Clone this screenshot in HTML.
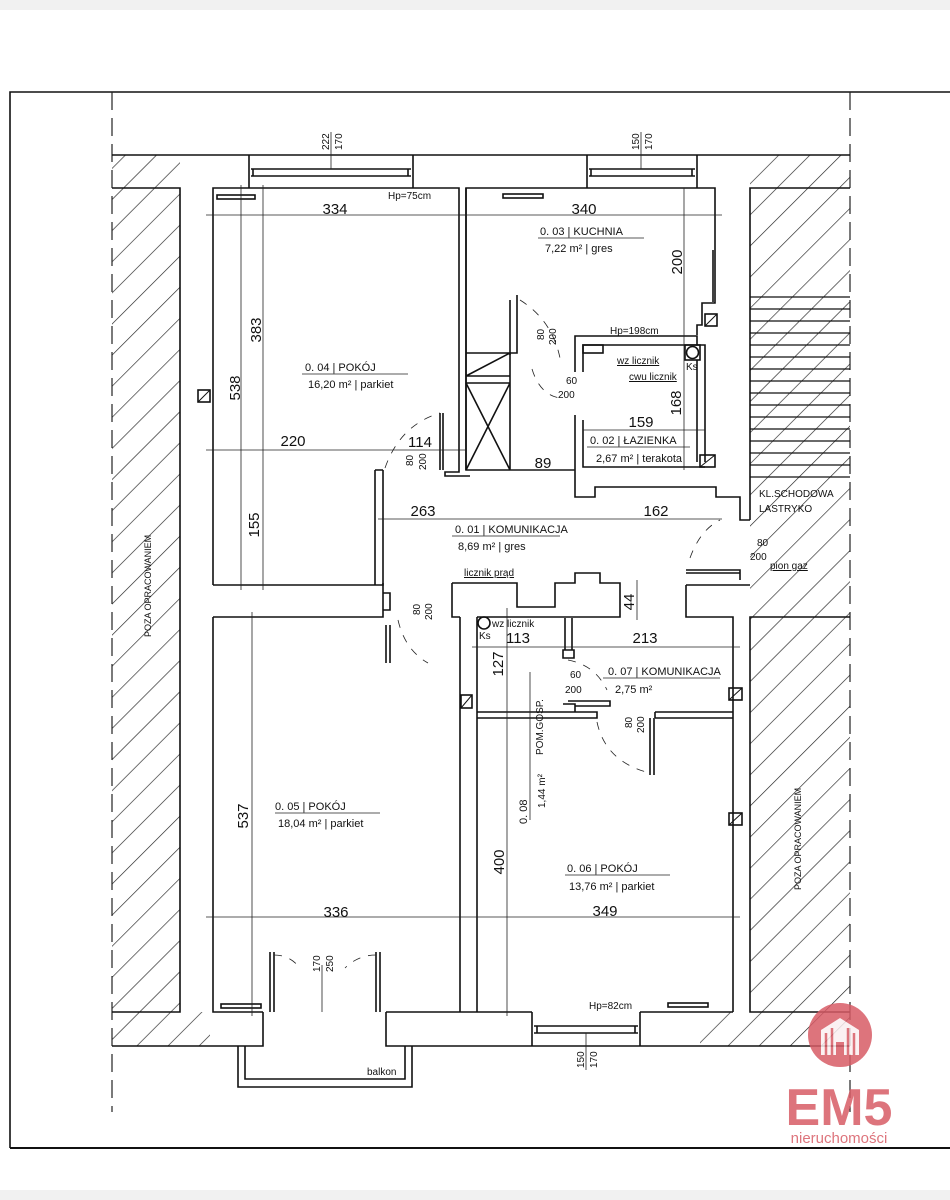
<!DOCTYPE html>
<html><head><meta charset="utf-8"><style>
html,body{margin:0;padding:0;background:#fff;}
svg{display:block;font-family:"Liberation Sans",sans-serif;}
.w{fill:none;stroke:#111;stroke-width:1.6}
.t{fill:none;stroke:#222;stroke-width:0.8}
.d{font-size:15px;fill:#111}
.s{font-size:10px;fill:#111}
.m{font-size:11px;fill:#111}
</style></head><body>
<svg width="950" height="1200" viewBox="0 0 950 1200" xmlns="http://www.w3.org/2000/svg">
<defs>
<pattern id="h" patternUnits="userSpaceOnUse" width="22" height="22" patternTransform="rotate(45)">
<line x1="0" y1="0" x2="0" y2="22" stroke="#222" stroke-width="1.3"/>
</pattern>
</defs>
<rect x="0" y="0" width="950" height="10" fill="#f1f1f1"/>
<rect x="0" y="1190" width="950" height="10" fill="#f1f1f1"/>
<!-- border -->
<path d="M10,1148 V92 H950" class="w" stroke-width="2"/>
<line x1="10" y1="1148" x2="950" y2="1148" stroke="#111" stroke-width="2"/>
<line x1="112" y1="92" x2="112" y2="1112" stroke="#222" stroke-width="1.2" stroke-dasharray="18,8"/>
<line x1="850" y1="92" x2="850" y2="1112" stroke="#222" stroke-width="1.2" stroke-dasharray="18,8"/>
<!-- hatches -->
<rect x="112" y="155" width="68" height="891" fill="url(#h)"/>
<rect x="180" y="1012" width="30" height="34" fill="url(#h)"/>
<rect x="750" y="155" width="100" height="891" fill="url(#h)"/>
<rect x="700" y="1012" width="50" height="34" fill="url(#h)"/>
<rect x="751" y="618" width="98" height="394" fill="#fff" opacity="0"/>
<!-- hatch outlines -->
<path d="M112,188 H180 V1012 H112" class="w"/>
<path d="M850,188 H750 V520" class="w"/>
<path d="M850,617 H750 V1012 H850" class="w"/>
<g stroke="#111" stroke-width="1.2">
<line x1="750" y1="297" x2="850" y2="297"/><line x1="750" y1="309" x2="850" y2="309"/><line x1="750" y1="321" x2="850" y2="321"/><line x1="750" y1="333" x2="850" y2="333"/><line x1="750" y1="345" x2="850" y2="345"/><line x1="750" y1="357" x2="850" y2="357"/><line x1="750" y1="369" x2="850" y2="369"/><line x1="750" y1="381" x2="850" y2="381"/><line x1="750" y1="393" x2="850" y2="393"/><line x1="750" y1="405" x2="850" y2="405"/><line x1="750" y1="417" x2="850" y2="417"/><line x1="750" y1="429" x2="850" y2="429"/><line x1="750" y1="441" x2="850" y2="441"/><line x1="750" y1="453" x2="850" y2="453"/><line x1="750" y1="465" x2="850" y2="465"/><line x1="750" y1="477" x2="850" y2="477"/>
</g>
<!-- exterior -->
<line x1="112" y1="155" x2="850" y2="155" class="w"/>
<path d="M112,1046 H263 V1012" class="w"/>
<path d="M386,1012 V1046 H850" class="w"/>
<!-- windows top -->
<path d="M249,155 V188 M413,155 V188 M251,169 H411 M251,176 H411 M253,169 V176 M408,169 V176" class="w" stroke-width="1.2"/>
<path d="M587,155 V188 M697,155 V188 M589,169 H695 M589,176 H695 M591,169 V176 M692,169 V176" class="w" stroke-width="1.2"/>
<!-- window bottom -->
<path d="M532,1012 V1046 M640,1012 V1046 M534,1026 H638 M534,1033 H638 M537,1026 V1033 M635,1026 V1033" class="w" stroke-width="1.2"/>
<!-- balcony -->
<path d="M238,1046 V1087 H412 V1046 M245,1046 V1079 H405 V1046" class="w" stroke-width="1.2"/>
<!-- room 0.04 -->
<path d="M213,585 V188 H459 V472 H445 V476 H470" class="w"/>
<path d="M383,470 V585 H213" class="w"/>
<path d="M375,470 H383 M375,470 V585" class="w"/>
<rect x="217" y="195" width="38" height="4" class="w" stroke-width="1"/>
<!-- kitchen -->
<path d="M466,470 V188 H715 V303 H702 V325 H697 V335" class="w"/>
<path d="M466,188 V470 H575" class="w"/>
<path d="M466,353 H510 V470 M466,376 H510 M466,376 L510,353 M466,383 H510 M466,383 L510,470 M510,383 L466,470" class="w" stroke-width="1.2"/>
<path d="M510,300 V355 M517,295 V353 H510" class="w"/>
<rect x="503" y="194" width="40" height="4" class="w" stroke-width="1"/>
<path d="M713,250 V302" class="w"/>
<!-- bath -->
<path d="M575,372 V336 H697 V345 H705 V462" class="w"/>
<path d="M583,372 V345 H697 M583,345 H595" class="w"/>
<rect x="583" y="345" width="20" height="8" class="w" stroke-width="1"/>
<path d="M575,415 V497 H595 V487 H716 V497 H740 V520 H750" class="w"/>
<path d="M583,420 V467 H705" class="w"/>
<rect x="685" y="345" width="15" height="15" class="w" stroke-width="1.2"/>
<circle cx="692.5" cy="352.5" r="6" class="w" stroke-width="1.2"/>
<rect x="700" y="455" width="15" height="12" class="w" stroke-width="1.2"/><line x1="700" y1="467" x2="715" y2="455" stroke="#111"/>
<rect x="705" y="314" width="12" height="12" class="w" stroke-width="1.2"/><line x1="705" y1="326" x2="717" y2="314" stroke="#111"/>
<line x1="697" y1="360" x2="697" y2="462" class="w"/>
<!-- left small vent -->
<rect x="198" y="390" width="12" height="12" class="w" stroke-width="1.2"/><line x1="198" y1="402" x2="210" y2="390" stroke="#111"/>
<!-- corridor door leaf -->
<path d="M440,413 V470 M443,413 V470" class="w" stroke-width="1.2"/>
<path d="M385,468 Q400,425 440,413" class="t" stroke-dasharray="8,8"/>
<path d="M520,300 Q552,320 560,358" class="t" stroke-dasharray="8,8"/>
<path d="M532,369 Q540,395 560,398" class="t" stroke-dasharray="8,8"/>
<path d="M686,570 H740 V580 M686,573 H740" class="w" stroke-width="1.2"/>
<path d="M690,558 Q700,530 720,520" class="t" stroke-dasharray="8,8"/>
<!-- lower corridor blocks -->
<path d="M383,583 V617 H213" class="w"/>
<path d="M383,593 H390 V610 H383" class="w" stroke-width="1.2"/>
<path d="M452,583 V617 H460 M452,583 H517 V607 H555 V583 H575 V573 H600 V583 H620 V617 H477" class="w"/>
<path d="M686,585 V617 H733 V1012 M686,585 H750" class="w"/>
<path d="M460,617 V1012 M477,617 V1012" class="w"/>
<path d="M477,712 H597 V718 H477 M655,712 H733 M655,718 H733 M655,712 V718" class="w"/>
<path d="M650,718 V775 M654,718 V775" class="w" stroke-width="1.2"/>
<path d="M597,722 Q605,760 646,772" class="t" stroke-dasharray="8,8"/>
<path d="M565,618 V650 M572,618 V650 M563,650 H574 V658 H563 Z" class="w" stroke-width="1.2"/>
<path d="M563,704 H575 V712 M568,701 H610 V706 H575" class="w" stroke-width="1.2"/>
<path d="M568,660 Q595,665 607,690" class="t" stroke-dasharray="8,8"/>
<circle cx="484" cy="623" r="6" class="w" stroke-width="1.2"/>
<path d="M386,625 V663 M390,625 V663" class="w" stroke-width="1.2"/>
<path d="M398,620 Q405,650 428,663" class="t" stroke-dasharray="8,8"/>
<!-- vents lower -->
<rect x="461" y="695" width="11" height="13" class="w" stroke-width="1.2"/><line x1="461" y1="708" x2="472" y2="695" stroke="#111"/>
<rect x="729" y="688" width="13" height="12" class="w" stroke-width="1.2"/><line x1="729" y1="700" x2="742" y2="688" stroke="#111"/>
<rect x="729" y="813" width="13" height="12" class="w" stroke-width="1.2"/><line x1="729" y1="825" x2="742" y2="813" stroke="#111"/>
<!-- room bottoms -->
<path d="M213,617 V1012 H263" class="w"/>
<path d="M386,1012 H532 M640,1012 H733" class="w"/>
<path d="M270,1012 V952 M274,1012 V952 M376,1012 V952 M380,1012 V952" class="w" stroke-width="1.2"/>
<path d="M274,955 Q290,955 300,968 M376,955 Q358,955 345,968" class="t" stroke-dasharray="8,8"/>
<rect x="221" y="1004" width="40" height="4" class="w" stroke-width="1"/>
<rect x="668" y="1003" width="40" height="4" class="w" stroke-width="1"/>
<!-- dimension lines -->
<g class="t">
<line x1="206" y1="215" x2="466" y2="215"/><line x1="459" y1="215" x2="722" y2="215"/>
<line x1="241" y1="185" x2="241" y2="590"/><line x1="263" y1="185" x2="263" y2="590"/>
<line x1="206" y1="450" x2="466" y2="450"/>
<line x1="510" y1="470" x2="575" y2="470"/>
<line x1="378" y1="519" x2="722" y2="519"/>
<line x1="583" y1="430" x2="705" y2="430"/>
<line x1="684" y1="188" x2="684" y2="470"/>
<line x1="252" y1="612" x2="252" y2="1016"/>
<line x1="206" y1="917" x2="740" y2="917"/>
<line x1="472" y1="647" x2="740" y2="647"/>
<line x1="507" y1="608" x2="507" y2="1016"/>
<line x1="637" y1="580" x2="637" y2="620"/>
<line x1="331" y1="132" x2="331" y2="169"/><line x1="641" y1="132" x2="641" y2="169"/>
<line x1="586" y1="1033" x2="586" y2="1070"/>
<line x1="322" y1="965" x2="322" y2="1012"/>
<line x1="302" y1="374" x2="408" y2="374"/><line x1="538" y1="238" x2="644" y2="238"/>
<line x1="587" y1="447" x2="690" y2="447"/><line x1="452" y1="536" x2="560" y2="536"/>
<line x1="275" y1="813" x2="380" y2="813"/><line x1="565" y1="875" x2="670" y2="875"/>
<line x1="603" y1="678" x2="720" y2="678"/><line x1="530" y1="672" x2="530" y2="820"/>
</g>
<!-- text -->
<g class="d">
<text x="335" y="214" text-anchor="middle">334</text>
<text x="584" y="214" text-anchor="middle">340</text>
<text x="293" y="446" text-anchor="middle">220</text>
<text x="420" y="447" text-anchor="middle">114</text>
<text x="543" y="468" text-anchor="middle">89</text>
<text x="641" y="427" text-anchor="middle">159</text>
<text x="423" y="516" text-anchor="middle">263</text>
<text x="656" y="516" text-anchor="middle">162</text>
<text x="518" y="643" text-anchor="middle">113</text>
<text x="645" y="643" text-anchor="middle">213</text>
<text x="336" y="917" text-anchor="middle">336</text>
<text x="605" y="916" text-anchor="middle">349</text>
<text transform="translate(261,330) rotate(-90)" text-anchor="middle">383</text>
<text transform="translate(240,388) rotate(-90)" text-anchor="middle">538</text>
<text transform="translate(259,525) rotate(-90)" text-anchor="middle">155</text>
<text transform="translate(682,262) rotate(-90)" text-anchor="middle">200</text>
<text transform="translate(681,403) rotate(-90)" text-anchor="middle">168</text>
<text transform="translate(634,602) rotate(-90)" text-anchor="middle">44</text>
<text transform="translate(503,664) rotate(-90)" text-anchor="middle">127</text>
<text transform="translate(248,816) rotate(-90)" text-anchor="middle">537</text>
<text transform="translate(504,862) rotate(-90)" text-anchor="middle">400</text>
</g>
<g class="m">
<text x="305" y="371">0. 04 | POKÓJ</text><text x="308" y="388">16,20 m² | parkiet</text>
<text x="540" y="235">0. 03 | KUCHNIA</text><text x="545" y="252">7,22 m² | gres</text>
<text x="590" y="444">0. 02 | ŁAZIENKA</text><text x="596" y="462">2,67 m² | terakota</text>
<text x="455" y="533">0. 01 | KOMUNIKACJA</text><text x="458" y="550">8,69 m² | gres</text>
<text x="608" y="675">0. 07 | KOMUNIKACJA</text><text x="615" y="693">2,75 m²</text>
<text x="275" y="810">0. 05 | POKÓJ</text><text x="278" y="827">18,04 m² | parkiet</text>
<text x="567" y="872">0. 06 | POKÓJ</text><text x="569" y="890">13,76 m² | parkiet</text>
<text transform="translate(527,824) rotate(-90)">0. 08</text>
<text transform="translate(545,808) rotate(-90)" class="s">1,44 m²</text>
<text transform="translate(543,755) rotate(-90)" class="s">POM.GOSP.</text>
</g>
<g class="s">
<text x="388" y="199">Hp=75cm</text>
<text x="610" y="334">Hp=198cm</text>
<text x="617" y="364" text-decoration="underline">wz licznik</text>
<text x="629" y="380" text-decoration="underline">cwu licznik</text>
<text x="686" y="370">Ks</text>
<text x="759" y="497">KL.SCHODOWA</text><text x="759" y="512">LASTRYKO</text>
<text x="757" y="546">80</text><text x="750" y="560">200</text>
<text x="770" y="569" text-decoration="underline">pion gaz</text>
<text x="464" y="576" text-decoration="underline">licznik prąd</text>
<text x="492" y="627">wz licznik</text><text x="479" y="639">Ks</text>
<text x="570" y="678">60</text><text x="565" y="693">200</text>
<text x="566" y="384">60</text><text x="558" y="398">200</text>
<text x="589" y="1009">Hp=82cm</text>
<text x="367" y="1075">balkon</text>
<text transform="translate(413,466) rotate(-90)">80</text><text transform="translate(426,470) rotate(-90)">200</text>
<text transform="translate(544,340) rotate(-90)">80</text><text transform="translate(556,345) rotate(-90)">200</text>
<text transform="translate(420,615) rotate(-90)">80</text><text transform="translate(432,620) rotate(-90)">200</text>
<text transform="translate(632,728) rotate(-90)">80</text><text transform="translate(644,733) rotate(-90)">200</text>
<text transform="translate(329,150) rotate(-90)">222</text><text transform="translate(342,150) rotate(-90)">170</text>
<text transform="translate(639,150) rotate(-90)">150</text><text transform="translate(652,150) rotate(-90)">170</text>
<text transform="translate(584,1068) rotate(-90)">150</text><text transform="translate(597,1068) rotate(-90)">170</text>
<text transform="translate(320,972) rotate(-90)">170</text><text transform="translate(333,972) rotate(-90)">250</text>
<text transform="translate(151,637) rotate(-90)" font-size="9">POZA OPRACOWANIEM</text>
<text transform="translate(801,890) rotate(-90)" font-size="9">POZA OPRACOWANIEM</text>
</g>
<!-- logo -->
<g opacity="0.85">
<circle cx="840" cy="1035" r="32" fill="#d85c66"/>
<path d="M821,1055 V1030 L840,1018 L859,1030 V1055 Z" fill="#fff" opacity="0.9"/>
<path d="M826,1055 V1033 M832,1055 V1028 M848,1055 V1028 M854,1055 V1033" stroke="#d85c66" stroke-width="2.5"/>
<rect x="836" y="1042" width="8" height="13" fill="#d85c66"/>
<text x="839" y="1125" text-anchor="middle" font-size="52" font-weight="bold" fill="#d85c66">EM5</text>
<text x="839" y="1143" text-anchor="middle" font-size="15" fill="#d85c66">nieruchomości</text>
</g>
</svg>
</body></html>
